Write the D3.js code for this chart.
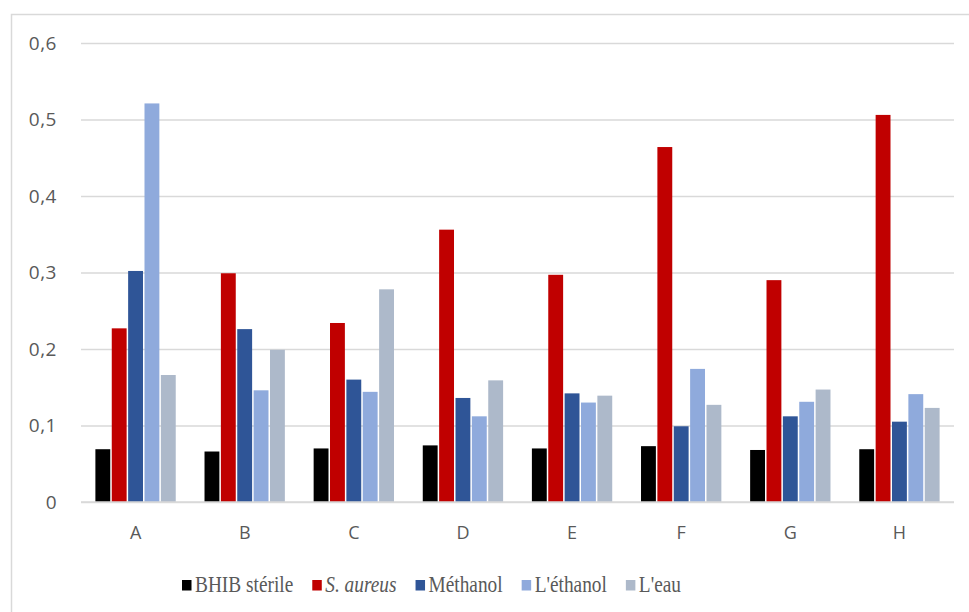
<!DOCTYPE html>
<html>
<head>
<meta charset="utf-8">
<script src="https://cdn.jsdelivr.net/npm/d3@7"></script>
<style>
  html, body { margin: 0; padding: 0; background: #fff; }
  svg { display: block; }
</style>
</head>
<body>
<svg id="chart" width="969" height="612"></svg>
<script>
// Absorbance by extract, grouped per sample
const categories = ["A", "B", "C", "D", "E", "F", "G", "H"];
const seriesNames = ["BHIB stérile", "S. aureus", "Méthanol", "L'éthanol", "L'eau"];
const bhib     = [0.069, 0.066, 0.070, 0.074, 0.070, 0.073, 0.068, 0.069];
const aureus   = [0.227, 0.299, 0.234, 0.356, 0.297, 0.464, 0.290, 0.506];
const methanol = [0.302, 0.226, 0.160, 0.136, 0.142, 0.099, 0.112, 0.105];
const ethanol  = [0.521, 0.146, 0.144, 0.112, 0.130, 0.174, 0.131, 0.141];
const eau      = [0.166, 0.199, 0.278, 0.159, 0.139, 0.127, 0.147, 0.123];
const yTicks = [0, 0.1, 0.2, 0.3, 0.4, 0.5, 0.6];
const colors = ["#000000", "#C00000", "#2F5597", "#8FAADC", "#ADB9CA"];

const seriesValues = [bhib, aureus, methanol, ethanol, eau];
const rows = categories.map((c, i) => ({
  cat: c,
  vals: seriesValues.map((s, k) => ({ key: k, value: s[i] }))
}));

const svg = d3.select("#chart");
const plot = { left: 81, right: 954, top: 43, bottom: 502 };

// chart area frame
svg.append("rect")
  .attr("x", 11.5).attr("y", 14.5)
  .attr("width", 1000).attr("height", 700)
  .attr("fill", "#fff").attr("stroke", "#d9d9d9").attr("stroke-width", 1.5);

const x0 = d3.scaleBand().domain(categories)
  .range([plot.left, plot.right]).paddingInner(0.25).paddingOuter(0.125);
const x1 = d3.scaleBand().domain(d3.range(seriesNames.length))
  .range([0, x0.bandwidth()]);
const y = d3.scaleLinear().domain([0, 0.6]).range([plot.bottom, plot.top]);

const fmt = v => v === 0 ? "0" : d3.format(".1f")(v).replace(".", ",");

// horizontal gridlines + y labels
const yAxis = d3.axisLeft(y).tickValues(yTicks)
  .tickSize(-(plot.right - plot.left)).tickPadding(24)
  .tickFormat(fmt);
const gy = svg.append("g").attr("transform", `translate(${plot.left},0)`).call(yAxis);
gy.select(".domain").remove();
gy.selectAll(".tick line").attr("stroke", "#d9d9d9").attr("stroke-width", 1.5);
gy.selectAll(".tick text")
  .attr("fill", "#595959")
  .style("font-family", "'Open Sans', sans-serif")
  .style("font-size", "19px")
  .style("letter-spacing", "0.5px");

// category axis
const xAxis = d3.axisBottom(x0).tickSize(0).tickPadding(24);
const gx = svg.append("g").attr("transform", `translate(0,${plot.bottom})`).call(xAxis);
gx.select(".domain").remove();
gx.selectAll(".tick text")
  .attr("fill", "#595959")
  .style("font-family", "'Open Sans', sans-serif")
  .style("font-size", "18px");

// bars
const groups = svg.append("g").selectAll("g")
  .data(rows).join("g")
  .attr("transform", d => `translate(${x0(d.cat)},0)`);
groups.selectAll("rect")
  .data(d => d.vals).join("rect")
  .attr("x", d => x1(d.key) + 0.75)
  .attr("width", x1.bandwidth() - 1.5)
  .attr("y", d => y(d.value))
  .attr("height", d => y(0) - y(d.value))
  .attr("fill", d => colors[d.key]);

// baseline
svg.append("line")
  .attr("x1", plot.left).attr("x2", plot.right)
  .attr("y1", y(0)).attr("y2", y(0))
  .attr("stroke", "#d9d9d9").attr("stroke-width", 1.5);

// legend: tall condensed serif labels
const sx = 0.86;
const legend = svg.append("g").attr("transform", "translate(182,0)");
let lx = 0;
seriesNames.forEach((name, k) => {
  const g = legend.append("g").attr("transform", `translate(${lx},0)`);
  g.append("rect").attr("x", 0).attr("y", 580).attr("width", 9.5).attr("height", 10.5)
    .attr("fill", colors[k]);
  const t = g.append("text")
    .attr("transform", `translate(13,591.5) scale(${sx},1)`)
    .attr("fill", "#595959")
    .style("font-family", "'Liberation Serif', 'Times New Roman', serif")
    .style("font-size", "22.5px")
    .style("font-style", k === 1 ? "italic" : "normal")
    .text(name);
  lx += 13 + t.node().getComputedTextLength() * sx + 19;
});
</script>
</body>
</html>
